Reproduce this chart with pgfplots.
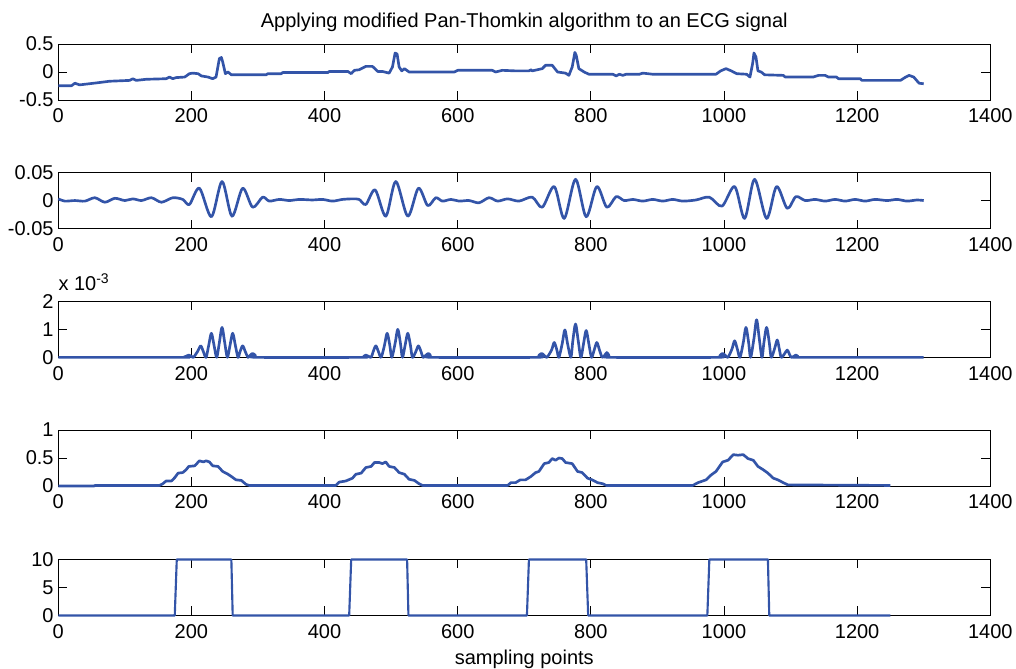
\documentclass[border=0pt]{standalone}
\usepackage{fontspec}
\setmainfont{Liberation Sans}
\usepackage{pgfplots}
\pgfplotsset{compat=1.18}
\definecolor{mblue}{RGB}{51,84,168}
\newcommand{\lbfont}{\fontsize{15}{18}\selectfont}
\pgfplotsset{
 myax/.style={
  scale only axis, width=699pt, height=42pt,
  xmin=0, xmax=1400, xtick={0,200,...,1400},
  tick align=inside, xtick pos=both, ytick pos=both,
  xticklabel pos=lower, yticklabel pos=left,
  major tick length=6.75pt,
  axis line style={line width=0.6pt},
  every tick/.style={black,line width=0.6pt},
  tick label style={font=\lbfont},
  label style={font=\lbfont},
  title style={font=\lbfont},
  scaled x ticks=false,
  /pgf/number format/assume math mode=true,
  /pgf/number format/1000 sep={},
  xticklabel style={yshift=-3pt},
  yticklabel style={/pgf/number format/fixed,/pgf/number format/precision=3},
  clip=false,
  cycle list={{mblue, no marks}},
  every axis plot/.append style={line width=2pt, line join=round},
 }
}
\begin{document}
\begin{tikzpicture}
\useasboundingbox (0,0) rectangle (762pt,-501pt);
% ---------- 1: ECG ----------
\begin{axis}[myax, at={(43.7pt,-75pt)}, anchor=south west,
  ymin=-0.5, ymax=0.5, ytick={-0.5,0,0.5}, scaled y ticks=false,
  title={Applying modified Pan-Thomkin algorithm to an ECG signal}]
\addplot+[] coordinates {(0,-0.244)(20,-0.244)(25,-0.20)(32,-0.23)(57,-0.195)(77,-0.165)(107,-0.15)(112,-0.12)(117,-0.15)(132,-0.13)(162,-0.12)(167,-0.09)(172,-0.12)(177,-0.10)(190,-0.09)(197,-0.03)(202,-0.02)(210,-0.03)(215,-0.07)(225,-0.09)(232,-0.12)(237,-0.09)(242,0.24)(245,0.26)(247,0.18)(251,-0.03)(255,0)(260,-0.05)(312,-0.05)(315,-0.03)(335,-0.03)(337,-0.01)(405,-0.01)(407,0.01)(435,0.01)(440,-0.03)(445,0.03)(452,0.04)(462,0.10)(472,0.10)(480,0.01)(487,0.01)(497,-0.02)(502,0.09)(506,0.34)(509,0.32)(512,0.09)(516,0.02)(520,0.06)(527,0)(595,0)(600,0.03)(652,0.03)(657,0)(667,0.03)(687,0.02)(707,0.02)(710,0.04)(712,0.02)(727,0.06)(732,0.12)(742,0.12)(750,0)(762,-0.02)(767,-0.06)(772,0.09)(776,0.35)(778,0.30)(782,0.06)(786,0.03)(790,0)(797,-0.04)(833,-0.04)(838,-0.07)(843,-0.04)(848,-0.06)(853,-0.04)(873,-0.04)(878,-0.02)(893,-0.04)(988,-0.04)(995,0.02)(1003,0.06)(1011,0.02)(1019,-0.03)(1034,-0.04)(1039,-0.09)(1043,0.15)(1045,0.34)(1048,0.27)(1051,0.02)(1056,0)(1061,-0.05)(1089,-0.06)(1092,-0.09)(1134,-0.09)(1142,-0.06)(1152,-0.06)(1157,-0.09)(1169,-0.09)(1172,-0.12)(1205,-0.12)(1207,-0.15)(1265,-0.15)(1273,-0.09)(1278,-0.06)(1285,-0.09)(1293,-0.20)(1300,-0.21)};
\end{axis}
% ---------- 2: band-pass ----------
\begin{axis}[myax, at={(43.7pt,-171.4pt)}, anchor=south west,
  ymin=-0.05, ymax=0.05, ytick={-0.05,0,0.05}, scaled y ticks=false]
\addplot+[smooth] coordinates {(0,0.003)(10,-0.001)(25,0)(40,-0.001)(55,0.005)(70,-0.003)(85,0.004)(100,0)(112,0.003)(125,0)(140,0.005)(155,-0.003)(172,0.005)(187,0.002)(197,-0.007)(212,0.022)(230,-0.029)(246,0.034)(261,-0.028)(277,0.022)(292,-0.012)(307,0.006)(317,-0.001)(332,0.002)(347,0)(362,0.002)(382,0.001)(397,0.002)(412,-0.001)(427,0.002)(442,0.003)(452,0.002)(462,-0.007)(476,0.019)(492,-0.028)(507,0.034)(525,-0.028)(541,0.022)(555,-0.009)(567,0.005)(577,-0.001)(590,0.002)(602,-0.001)(617,0)(632,-0.004)(647,0.005)(660,-0.001)(675,0.003)(692,-0.001)(712,0.006)(727,-0.012)(745,0.025)(760,-0.032)(777,0.038)(793,-0.029)(809,0.025)(824,-0.012)(838,0.007)(850,0)(863,0.002)(878,-0.001)(893,0.002)(908,-0.001)(923,0.002)(938,-0.001)(958,0.001)(978,0.006)(997,-0.010)(1016,0.025)(1031,-0.032)(1046,0.038)(1064,-0.032)(1079,0.025)(1095,-0.014)(1108,0.007)(1122,0)(1137,0.002)(1152,-0.001)(1167,0.002)(1182,-0.001)(1197,0.002)(1212,-0.001)(1227,0.002)(1245,0)(1260,0.002)(1275,-0.001)(1290,0.001)(1300,0)};
\end{axis}
% ---------- 3: squared ----------
\begin{axis}[myax, at={(43.7pt,-268pt)}, anchor=south west,
  ymin=0, ymax=0.002, ytick={0,0.001,0.002},
  scaled y ticks=base 10:3,
  ytick scale label code/.code={x 10\textsuperscript{#1}},
  every y tick scale label/.style={at={(rel axis cs:0,1)}, anchor=south west, inner sep=0pt, yshift=8pt, font=\lbfont}]
\addplot+[smooth, tension=0.5] coordinates {(0,0)(185,0)(188,0)(192,0.00004)(196,0.00008)(200,0.00004)(203,0)(209,0.0002)(214,0.00041)(218,0.0002)(222,0)(226,0.00043)(230,0.00086)(234,0.00043)(238,0)(242,0.00053)(246,0.00107)(250,0.00053)(254,0)(258,0.00043)(262,0.00086)(266,0.00043)(270,0)(273,0.0002)(277,0.00041)(281,0.0002)(285,0)(288,0.00007)(292,0.00014)(296,0.00007)(299,0)
(455,0)(459,0.00004)(462,0.00008)(466,0.00004)(470,0)(473,0.0002)(477,0.00041)(481,0.0002)(485,0)(490,0.00043)(494,0.00086)(498,0.00043)(501,0)(506,0.0005)(510,0.0010)(514,0.0005)(517,0)(521,0.00043)(525,0.00086)(529,0.00043)(532,0)(537,0.0002)(541,0.00041)(545,0.0002)(548,0)(552,0.00007)(556,0.00014)(559,0.00007)(562,0)
(718,0)(722,0.00007)(726,0.00014)(730,0.00007)(734,0)(741,0.00026)(745,0.00053)(749,0.00026)(752,0)(757,0.00049)(761,0.00098)(765,0.00049)(770,0)(773,0.0006)(777,0.00119)(781,0.0006)(785,0)(789,0.00048)(793,0.00096)(797,0.00048)(801,0)(805,0.00026)(809,0.00053)(813,0.00026)(817,0)(821,0.00008)(824,0.00017)(827,0.00008)(830,0)
(990,0)(994,0.00007)(998,0.00014)(1002,0.00007)(1006,0)(1012,0.0003)(1016,0.00059)(1020,0.0003)(1024,0)(1029,0.00053)(1033,0.00107)(1037,0.00053)(1040,0)(1045,0.00067)(1049,0.00134)(1053,0.00067)(1057,0)(1060,0.00053)(1064,0.00107)(1068,0.00053)(1071,0)(1076,0.00031)(1080,0.00062)(1083,0.00031)(1086,0)(1091,0.00013)(1095,0.00026)(1098,0.00013)(1101,0)(1105,0.00004)(1108,0.00008)(1111,0.00004)(1114,0)(1300,0)};
\end{axis}
% ---------- 4: integrated ----------
\begin{axis}[myax, at={(43.7pt,-364.5pt)}, anchor=south west,
  ymin=0, ymax=1, ytick={0,0.5,1}, scaled y ticks=false]
\addplot+[] coordinates {(0,0)(54,0)(55,0.01)(152,0.01)(157,0.04)(162,0.09)(170,0.09)(175,0.15)(180,0.23)(187,0.24)(192,0.29)(196,0.35)(205,0.36)(212,0.45)(218,0.43)(222,0.45)(227,0.43)(232,0.36)(240,0.35)(247,0.26)(255,0.21)(260,0.17)(267,0.11)(275,0.10)(282,0.03)(287,0.01)(417,0.01)(422,0.07)(432,0.09)(442,0.14)(447,0.21)(455,0.23)(462,0.33)(470,0.35)(475,0.42)(482,0.42)(487,0.40)(492,0.43)(497,0.35)(505,0.33)(512,0.24)(520,0.21)(527,0.12)(535,0.10)(542,0.04)(547,0.01)(675,0.01)(680,0.06)(687,0.06)(694,0.11)(702,0.11)(710,0.17)(717,0.24)(722,0.26)(730,0.40)(737,0.42)(742,0.49)(747,0.46)(752,0.50)(757,0.49)(762,0.42)(772,0.40)(780,0.26)(787,0.24)(795,0.14)(802,0.11)(810,0.06)(818,0.04)(823,0.01)(953,0.01)(961,0.06)(973,0.11)(981,0.20)(988,0.26)(998,0.43)(1006,0.46)(1014,0.56)(1021,0.55)(1029,0.56)(1036,0.49)(1044,0.46)(1051,0.35)(1059,0.29)(1066,0.23)(1074,0.14)(1081,0.11)(1089,0.06)(1096,0.02)(1250,0.01)};
\end{axis}
% ---------- 5: detection ----------
\begin{axis}[myax, at={(43.7pt,-461.6pt)}, anchor=south west,
  ymin=0, ymax=10, ytick={0,5,10}, scaled y ticks=false,
  xlabel={sampling points}, xlabel style={yshift=-2pt}]
\addplot+[line width=1.6pt] coordinates {(0,0)(175,0)(178,10)(260,10)(262,0)(437,0)(440,10)(524,10)(526,0)(704,0)(707,10)(793,10)(796,0)(975,0)(978,10)(1066,10)(1068,0)(1250,0)};
\end{axis}
\end{tikzpicture}
\end{document}
